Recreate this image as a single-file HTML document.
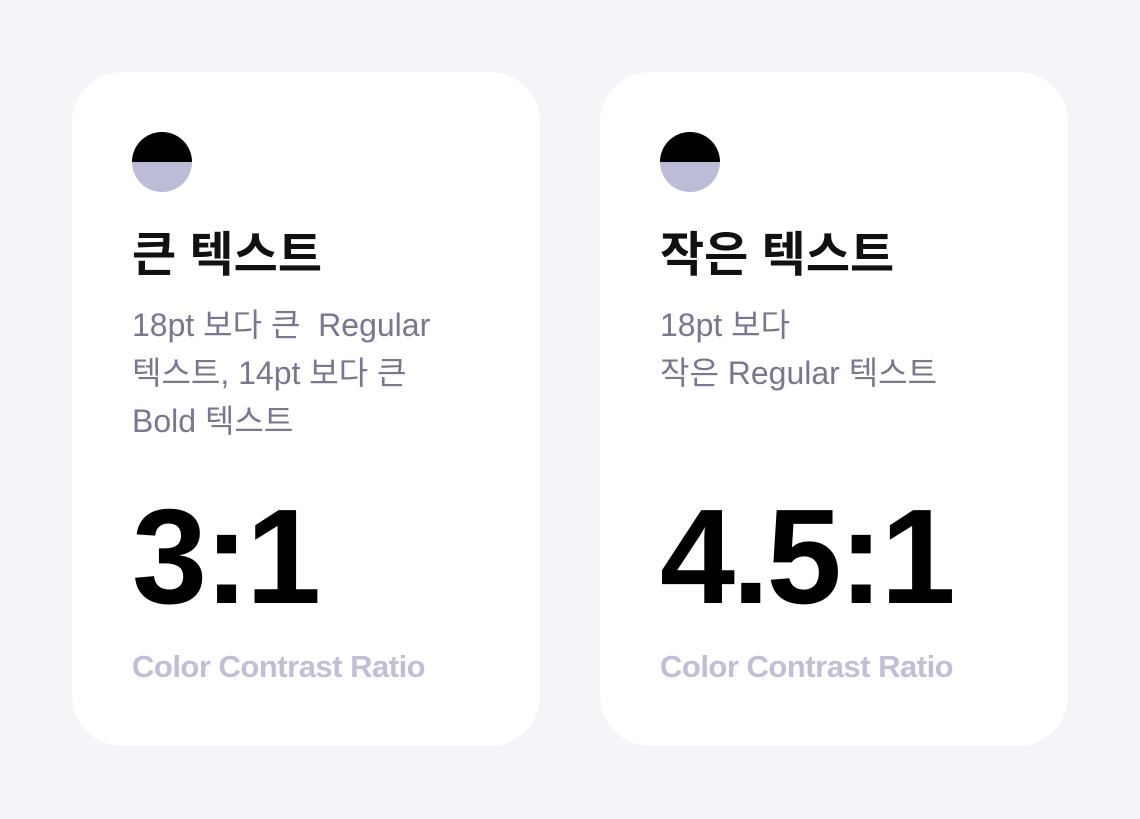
<!DOCTYPE html>
<html><head><meta charset="utf-8">
<style>
html,body{margin:0;padding:0;}
body{width:1140px;height:819px;background:#f4f5f9;position:relative;overflow:hidden;font-family:"Liberation Sans","Noto Sans CJK KR",sans-serif;}
.card{position:absolute;top:72px;width:468px;height:674px;background:#fff;border-radius:50px;}
.icon{position:absolute;left:60px;top:60px;width:60px;height:60px;border-radius:50%;overflow:hidden;background:#bcbcd8;}
.icon::before{content:"";position:absolute;left:0;top:0;width:60px;height:30px;background:#000;}
.title{position:absolute;left:60px;top:154px;font-size:48px;font-weight:700;color:#111;line-height:60px;white-space:nowrap;}
.desc{position:absolute;left:60px;top:229px;font-size:32px;color:#77778f;line-height:48px;white-space:nowrap;}
.ratio{position:absolute;left:60px;top:400px;font-size:135px;font-weight:700;color:#000;line-height:170px;letter-spacing:-3px;white-space:nowrap;}
.label{position:absolute;left:60px;top:575px;font-size:31px;font-weight:700;color:#c0bfd8;line-height:40px;letter-spacing:-0.5px;white-space:nowrap;}
</style></head>
<body>
<div class="card" style="left:72px">
  <div class="icon"></div>
  <div class="title">큰 텍스트</div>
  <div class="desc">18pt 보다 큰&nbsp; Regular<br>텍스트, 14pt 보다 큰<br>Bold 텍스트</div>
  <div class="ratio">3:1</div>
  <div class="label">Color Contrast Ratio</div>
</div>
<div class="card" style="left:600px">
  <div class="icon"></div>
  <div class="title">작은 텍스트</div>
  <div class="desc">18pt 보다<br>작은 Regular 텍스트</div>
  <div class="ratio">4.5:1</div>
  <div class="label">Color Contrast Ratio</div>
</div>
</body></html>
